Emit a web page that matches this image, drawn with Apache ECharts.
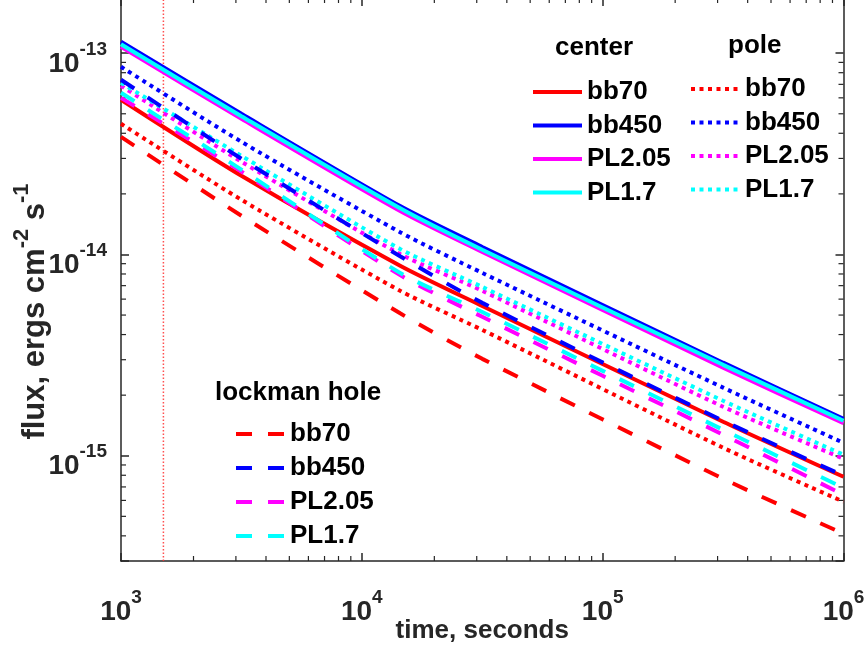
<!DOCTYPE html>
<html><head><meta charset="utf-8">
<script src="https://cdn.jsdelivr.net/npm/echarts@6/dist/echarts.min.js"></script>
<style>html,body{margin:0;padding:0;background:#fff}#c{width:866px;height:647px}</style>
</head><body><div id="c"></div><script>
// exposure time (s)
const times = [1000, 3162, 14420, 31623, 316228, 1000000];
// center
const centerBb70  = [5.87e-14, 2.46e-14, 8.80e-15, 5.55e-15, 1.476e-15, 7.86e-16];
const centerBb450 = [1.139e-13, 5.00e-14, 1.740e-14, 1.090e-14, 2.90e-15, 1.527e-15];
const centerPL205 = [1.076e-13, 4.72e-14, 1.645e-14, 1.030e-14, 2.74e-15, 1.450e-15];
const centerPL17  = [1.107e-13, 4.86e-14, 1.695e-14, 1.055e-14, 2.83e-15, 1.493e-15];
// pole
const poleBb70  = [4.46e-14, 1.870e-14, 6.60e-15, 4.22e-15, 1.096e-15, 5.91e-16];
const poleBb450 = [8.56e-14, 3.63e-14, 1.290e-14, 8.10e-15, 2.18e-15, 1.16e-15];
const polePL205 = [6.89e-14, 2.89e-14, 1.005e-14, 6.60e-15, 1.751e-15, 9.66e-16];
const polePL17  = [7.13e-14, 3.09e-14, 1.065e-14, 6.90e-15, 1.876e-15, 1.012e-15];
// lockman hole
const lockBb70  = [3.84e-14, 1.557e-14, 5.10e-15, 3.03e-15, 7.69e-16, 4.10e-16];
const lockBb450 = [7.38e-14, 2.99e-14, 9.80e-15, 5.75e-15, 1.493e-15, 7.96e-16];
const lockPL205 = [6.00e-14, 2.58e-14, 7.90e-15, 4.90e-15, 1.272e-15, 6.40e-16];
const lockPL17  = [6.36e-14, 2.64e-14, 8.10e-15, 5.18e-15, 1.346e-15, 6.93e-16];
// vertical marker
const markerTime = 1500;
// axes
const xMin = 1000, xMax = 1000000;
const yMin = 3e-16, yMax = 1.88e-13;
const xMinorTicks = [2e3,3e3,4e3,5e3,6e3,7e3,8e3,9e3,2e4,3e4,4e4,5e4,6e4,7e4,8e4,9e4,2e5,3e5,4e5,5e5,6e5,7e5,8e5,9e5];
const yMinorTicks = [4e-16,5e-16,6e-16,7e-16,8e-16,9e-16,2e-15,3e-15,4e-15,5e-15,6e-15,7e-15,8e-15,9e-15,2e-14,3e-14,4e-14,5e-14,6e-14,7e-14,8e-14,9e-14];
const models = ['bb70','bb450','PL2.05','PL1.7'];

const FONT = 'Liberation Sans, Arial, Helvetica, sans-serif';
const AX = '#262626';
const colors = {'bb70':'#ff0000','bb450':'#0000ff','PL2.05':'#ff00ff','PL1.7':'#00ffff'};
const groups = [
  {key:'center', type:'solid', data:[centerBb70, centerBb450, centerPL205, centerPL17]},
  {key:'pole', type:[4,4.5], data:[poleBb70, poleBb450, polePL205, polePL17]},
  {key:'lockman', type:[16,16], data:[lockBb70, lockBb450, lockPL205, lockPL17]}
];

const series = [];
series.push({
  name:'marker', type:'line', symbol:'none', silent:true,
  data:[[markerTime, yMin],[markerTime, yMax]],
  itemStyle:{color:'#ff0000'},
  lineStyle:{color:'#ff3030', width:1.5, type:[1.5,2], opacity:0.85}
});
groups.forEach(g => {
  models.forEach((m, i) => {
    series.push({
      name: g.key + '|' + m, type:'line', symbol:'none', showSymbol:false, smooth:0.25,
      data: times.map((t, j) => [t, g.data[i][j]]),
      lineStyle:{color:colors[m], width:4, type:g.type, cap:'butt'},
      itemStyle:{color:colors[m]}
    });
  });
});
series.push({
  type:'custom', silent:true, clip:false,
  data: xMinorTicks.map(v => [v, yMin]),
  renderItem:(params, api) => {
    const cs = params.coordSys;
    const x = api.coord([api.value(0), yMin])[0];
    const st = {stroke:AX, lineWidth:1.2};
    return {type:'group', children:[
      {type:'line', shape:{x1:x, y1:cs.y+cs.height, x2:x, y2:cs.y+cs.height-5}, style:st},
      {type:'line', shape:{x1:x, y1:cs.y, x2:x, y2:cs.y+5}, style:st}
    ]};
  }
});
series.push({
  type:'custom', silent:true, clip:false,
  data: yMinorTicks.map(v => [xMin, v]),
  renderItem:(params, api) => {
    const cs = params.coordSys;
    const y = api.coord([xMin, api.value(1)])[1];
    const st = {stroke:AX, lineWidth:1.2};
    return {type:'group', children:[
      {type:'line', shape:{x1:cs.x, y1:y, x2:cs.x+5, y2:y}, style:st},
      {type:'line', shape:{x1:cs.x+cs.width, y1:y, x2:cs.x+cs.width-5, y2:y}, style:st}
    ]};
  }
});

function powLabel(v) {
  const e = Math.log10(v);
  if (Math.abs(e - Math.round(e)) > 1e-6) return '';
  return '{b|10}{s|' + Math.round(e) + '}';
}
const labelRich = {
  b:{fontSize:28, fontWeight:'bold', color:AX, fontFamily:FONT, lineHeight:38, verticalAlign:'bottom'},
  s:{fontSize:19, fontWeight:'bold', color:AX, fontFamily:FONT, lineHeight:19, verticalAlign:'top'}
};
const axisLineCfg = {show:true, lineStyle:{color:AX, width:1.5}};
const tickCfg = {show:true, inside:true, length:8, lineStyle:{color:AX, width:1.5}};

const legendBase = {
  orient:'vertical', itemWidth:49, itemHeight:14, itemGap:7.5, selectedMode:false,
  textStyle:{fontSize:26, fontWeight:'bold', color:'#000', fontFamily:FONT},
  lineStyle:{width:4},
  itemStyle:{opacity:0},
  formatter: name => name.split('|')[1]
};

const option = {
  animation:false,
  grid:{left:121, right:22.5, top:-2, bottom:86, containLabel:false, outerBoundsMode:'none'},
  xAxis:[
    {type:'log', logBase:10, min:xMin, max:xMax, position:'bottom',
     axisLine:axisLineCfg, axisTick:tickCfg, splitLine:{show:false}, minorTick:{show:false},
     axisLabel:{formatter:powLabel, rich:labelRich, margin:27},
     name:'time, seconds', nameLocation:'middle', nameGap:57, nameMoveOverlap:false,
     nameTextStyle:{fontSize:26, fontWeight:'bold', color:AX, fontFamily:FONT}},
    {type:'log', logBase:10, min:xMin, max:xMax, position:'top',
     axisLine:axisLineCfg, axisTick:tickCfg, splitLine:{show:false}, axisLabel:{show:false}}
  ],
  yAxis:[
    {type:'log', logBase:10, min:yMin, max:yMax, position:'left',
     axisLine:axisLineCfg, axisTick:tickCfg, splitLine:{show:false},
     axisLabel:{formatter:powLabel, rich:labelRich, margin:14, padding:[12,0,0,0]},
     name:'{a|flux, ergs cm}{s|-2}{a| s}{s|-1}', nameLocation:'middle', nameGap:70, nameRotate:90,
     nameMoveOverlap:false,
     nameTextStyle:{padding:[0,64,0,0], rich:{
       a:{fontSize:31, fontWeight:'bold', color:AX, fontFamily:FONT, lineHeight:40, verticalAlign:'bottom'},
       s:{fontSize:22, fontWeight:'bold', color:AX, fontFamily:FONT, lineHeight:22, verticalAlign:'top'}
     }}},
    {type:'log', logBase:10, min:yMin, max:yMax, position:'right',
     axisLine:axisLineCfg, axisTick:tickCfg, splitLine:{show:false}, axisLabel:{show:false}}
  ],
  legend:[
    Object.assign({}, legendBase, {left:526, top:74, data:models.map(m => 'center|' + m)}),
    Object.assign({}, legendBase, {left:684, top:71, data:models.map(m => 'pole|' + m)}),
    Object.assign({}, legendBase, {left:229, top:416, itemGap:8, data:models.map(m => 'lockman|' + m)})
  ],
  graphic:[
    {type:'text', left:555, top:35, style:{text:'center', fill:'#000', font:'bold 26px ' + FONT}},
    {type:'text', left:728, top:33, style:{text:'pole', fill:'#000', font:'bold 26px ' + FONT}},
    {type:'text', left:215, top:380, style:{text:'lockman hole', fill:'#000', font:'bold 26px ' + FONT}}
  ],
  series: series
};
const chart = echarts.init(document.getElementById('c'), null, {renderer:'canvas'});
chart.setOption(option);
</script></body></html>
